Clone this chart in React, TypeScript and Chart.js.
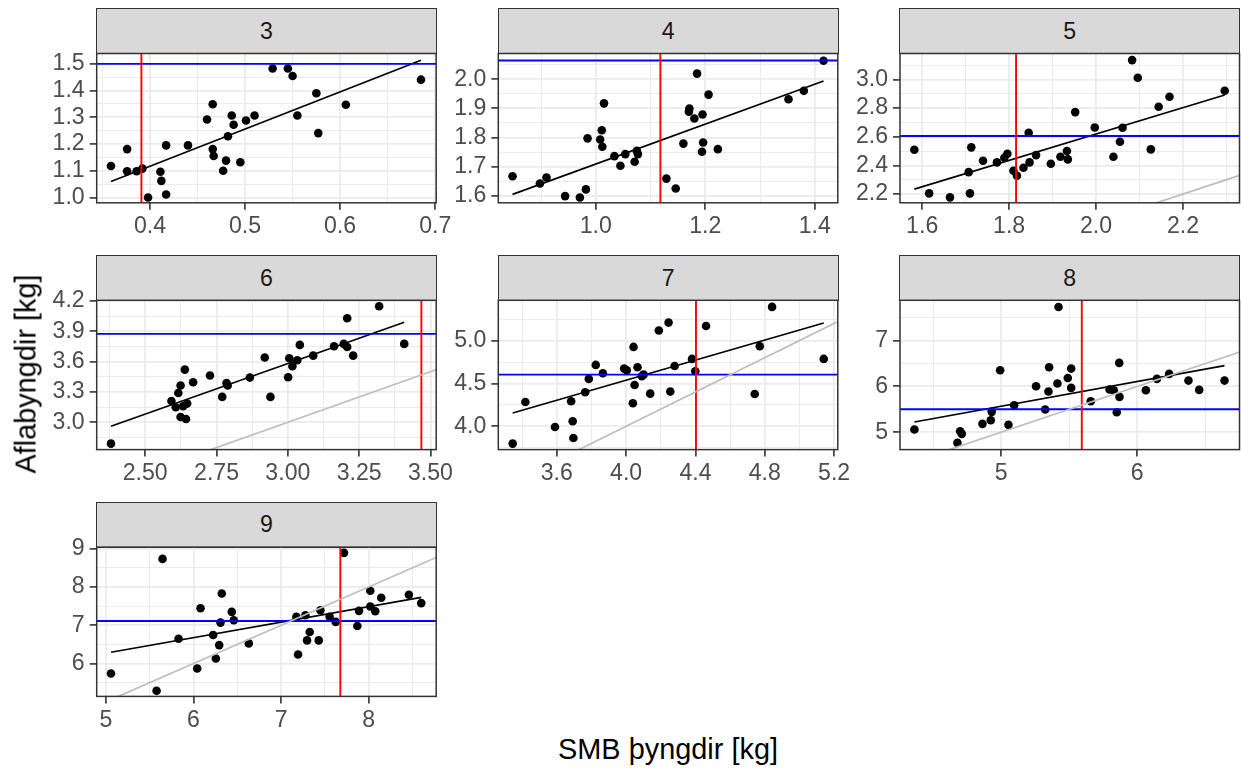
import React, { useEffect, useRef } from "react";
import { Chart, registerables } from "chart.js";

Chart.register(...registerables);

const FIG_W = 1241;
const FIG_H = 772;
const FONT = "'Liberation Sans', Arial, Helvetica, sans-serif";

// Age groups, one facet each
const ages = [3, 4, 5, 6, 7, 8, 9];

// SMB weights (x) and catch weights (y) per age group
const smb3 = [0.359, 0.376, 0.376, 0.386, 0.392, 0.398, 0.411, 0.412, 0.417, 0.417, 0.44, 0.46, 0.466, 0.466, 0.467, 0.477, 0.48, 0.482, 0.486, 0.488, 0.495, 0.501, 0.51, 0.529, 0.545, 0.55, 0.555, 0.575, 0.577, 0.606, 0.685];
const afla3 = [1.118, 1.181, 1.098, 1.098, 1.108, 1.0, 1.096, 1.062, 1.011, 1.195, 1.195, 1.292, 1.349, 1.181, 1.155, 1.1, 1.138, 1.229, 1.307, 1.272, 1.132, 1.288, 1.307, 1.483, 1.483, 1.455, 1.307, 1.39, 1.241, 1.347, 1.441];

const smb4 = [0.848, 0.898, 0.91, 0.944, 0.971, 0.982, 0.985, 1.008, 1.011, 1.012, 1.015, 1.034, 1.045, 1.054, 1.071, 1.075, 1.077, 1.129, 1.146, 1.16, 1.171, 1.17, 1.18, 1.185, 1.195, 1.196, 1.194, 1.206, 1.223, 1.352, 1.38, 1.416];
const afla4 = [1.667, 1.642, 1.663, 1.599, 1.594, 1.622, 1.797, 1.793, 1.825, 1.768, 1.917, 1.736, 1.703, 1.743, 1.717, 1.754, 1.743, 1.659, 1.625, 1.779, 1.899, 1.888, 1.865, 2.019, 1.879, 1.783, 1.751, 1.947, 1.76, 1.931, 1.96, 2.063];

const smb5 = [1.582, 1.616, 1.664, 1.707, 1.71, 1.713, 1.74, 1.772, 1.789, 1.796, 1.81, 1.818, 1.833, 1.845, 1.847, 1.862, 1.896, 1.918, 1.933, 1.935, 1.952, 1.997, 2.04, 2.055, 2.061, 2.083, 2.096, 2.126, 2.144, 2.169, 2.296];
const afla5 = [2.509, 2.205, 2.177, 2.353, 2.205, 2.526, 2.433, 2.421, 2.453, 2.481, 2.363, 2.328, 2.384, 2.628, 2.421, 2.472, 2.412, 2.46, 2.5, 2.442, 2.772, 2.665, 2.46, 2.565, 2.663, 3.135, 3.012, 2.512, 2.809, 2.879, 2.921];

const smb6 = [2.38, 2.592, 2.607, 2.616, 2.624, 2.624, 2.633, 2.639, 2.643, 2.647, 2.668, 2.727, 2.77, 2.785, 2.789, 2.867, 2.919, 2.939, 3.001, 3.005, 3.016, 3.033, 3.042, 3.089, 3.162, 3.196, 3.208, 3.208, 3.229, 3.32, 3.408];
const afla6 = [2.789, 3.211, 3.148, 3.29, 3.363, 3.053, 3.158, 3.521, 3.033, 3.185, 3.396, 3.462, 3.251, 3.389, 3.363, 3.442, 3.64, 3.251, 3.445, 3.633, 3.554, 3.613, 3.765, 3.659, 3.752, 3.775, 3.745, 4.029, 3.659, 4.147, 3.775];

const smb7 = [3.346, 3.419, 3.59, 3.683, 3.692, 3.696, 3.764, 3.785, 3.825, 3.866, 3.989, 4.004, 4.039, 4.043, 4.049, 4.066, 4.091, 4.101, 4.139, 4.189, 4.245, 4.255, 4.28, 4.38, 4.399, 4.461, 4.742, 4.771, 4.842, 5.14];
const afla7 = [3.798, 4.284, 3.992, 4.292, 4.058, 3.864, 4.397, 4.553, 4.716, 4.619, 4.673, 4.654, 4.268, 4.926, 4.482, 4.689, 4.584, 4.603, 4.381, 5.117, 5.21, 4.405, 4.704, 4.786, 4.642, 5.171, 4.377, 4.934, 5.393, 4.786];

const smb8 = [4.363, 4.679, 4.699, 4.711, 4.863, 4.924, 4.931, 4.993, 5.054, 5.096, 5.257, 5.324, 5.348, 5.353, 5.414, 5.422, 5.49, 5.515, 5.515, 5.659, 5.797, 5.828, 5.85, 5.87, 5.868, 6.064, 6.145, 6.235, 6.377, 6.456, 6.642];
const afla8 = [5.058, 4.767, 5.022, 4.964, 5.182, 5.262, 5.444, 6.353, 5.16, 5.589, 6.004, 5.495, 5.887, 6.418, 6.062, 7.735, 6.185, 6.389, 5.967, 5.676, 5.931, 5.916, 5.436, 5.771, 6.513, 5.916, 6.164, 6.273, 6.127, 5.924, 6.127];

const smb9 = [5.057, 5.578, 5.646, 5.829, 6.042, 6.08, 6.224, 6.255, 6.293, 6.308, 6.323, 6.437, 6.46, 6.631, 7.175, 7.194, 7.278, 7.297, 7.327, 7.43, 7.449, 7.555, 7.624, 7.719, 7.871, 7.89, 8.019, 8.019, 8.076, 8.144, 8.46, 8.601];
const afla9 = [5.737, 5.289, 8.737, 6.649, 5.868, 7.447, 6.746, 6.132, 6.482, 7.07, 7.833, 7.351, 7.132, 6.526, 7.219, 6.237, 7.263, 6.605, 6.825, 6.605, 7.395, 7.219, 7.088, 8.895, 6.982, 7.377, 7.904, 7.491, 7.368, 7.719, 7.798, 7.579];

const smbByAge = [smb3, smb4, smb5, smb6, smb7, smb8, smb9];
const aflaByAge = [afla3, afla4, afla5, afla6, afla7, afla8, afla9];

// Reference levels: red vertical (SMB) and blue horizontal (catch)
const refSmb = [0.391, 1.118, 1.816, 3.468, 4.403, 5.593, 7.677];
const refAfla = [1.5, 2.064, 2.605, 3.874, 4.603, 5.502, 7.114];

// Linear fit per age group: afla = intercept + slope * smb
const fitIntercept = [0.559, 1.025, 0.781, 0.578, 2.198, 2.862, 4.247];
const fitSlope = [1.394, 0.684, 0.919, 1.001, 0.585, 0.541, 0.405];

// Axis limits
const xLo = [0.344, 0.822, 1.549, 2.33, 3.263, 4.257, 4.894];
const xHi = [0.701, 1.442, 2.33, 3.52, 5.221, 6.752, 8.772];
const yLo = [0.98, 1.576, 2.139, 2.73, 3.728, 4.62, 5.14];
const yHi = [1.539, 2.088, 3.181, 4.206, 5.47, 7.88, 9.045];

// Tick marks and label precision
const xTicks = [[0.4, 0.5, 0.6, 0.7], [1.0, 1.2, 1.4], [1.6, 1.8, 2.0, 2.2], [2.5, 2.75, 3.0, 3.25, 3.5], [3.6, 4.0, 4.4, 4.8, 5.2], [5, 6], [5, 6, 7, 8]];
const xDigits = [1, 1, 1, 2, 1, 0, 0];
const yTicks = [[1.0, 1.1, 1.2, 1.3, 1.4, 1.5], [1.6, 1.7, 1.8, 1.9, 2.0], [2.2, 2.4, 2.6, 2.8, 3.0], [3.0, 3.3, 3.6, 3.9, 4.2], [4.0, 4.5, 5.0], [5, 6, 7], [6, 7, 8, 9]];
const yDigits = [1, 1, 1, 1, 1, 0, 0];

// Facet grid geometry
const colLeft = [96.7, 498.3, 900.0];
const panelW = 339.5;
const rowTop = [8.3, 255.1, 501.9];
const stripH = 45.2;
const panelH = 149.3;

const TICK_FONT = 23.1;
const TITLE_FONT = 28.9;

type TickItem = { value: number; minor: boolean };

function buildTicks(major: number[], lo: number, hi: number): TickItem[] {
  const step = major[1] - major[0];
  const out: TickItem[] = [];
  for (let k = 0; k < 200; k++) {
    const v = major[0] - step / 2 + (k * step) / 2;
    if (v > hi + 1e-9) break;
    if (v >= lo - 1e-9) out.push({ value: +v.toFixed(6), minor: k % 2 === 0 });
  }
  return out;
}

const panelFrame = {
  id: "panelFrame",
  afterDraw(chart: any) {
    const a = chart.chartArea;
    const ctx = chart.ctx;
    ctx.save();
    ctx.strokeStyle = "#333333";
    ctx.lineWidth = 1.5;
    ctx.strokeRect(a.left, a.top, a.right - a.left, a.bottom - a.top);
    ctx.restore();
  },
};

function axisOptions(
  ticks: number[],
  digits: number,
  lo: number,
  hi: number,
  horizontal: boolean,
  size: number
) {
  return {
    type: "linear",
    min: lo,
    max: hi,
    border: { display: false },
    afterBuildTicks: (sc: any) => {
      sc.ticks = buildTicks(ticks, lo, hi);
    },
    afterFit: (sc: any) => {
      if (horizontal) {
        sc.height = size;
        sc.paddingLeft = 0;
        sc.paddingRight = 0;
      } else {
        sc.width = size;
        sc.paddingTop = 0;
        sc.paddingBottom = 0;
      }
    },
    ticks: {
      autoSkip: false,
      maxRotation: 0,
      minRotation: 0,
      padding: horizontal ? 3 : 5,
      color: "#4D4D4D",
      font: { family: FONT, size: TICK_FONT },
      callback: (value: any, index: number, all: any[]) =>
        all[index] && all[index].minor ? "" : Number(value).toFixed(digits),
    },
    grid: {
      color: "#EBEBEB",
      lineWidth: (c: any) => (c.tick && c.tick.minor ? 1.0 : 1.8),
      tickLength: 7,
      tickColor: (c: any) => (c.tick && c.tick.minor ? "rgba(0,0,0,0)" : "#333333"),
      tickWidth: 1.6,
    },
  };
}

function Panel({ i }: { i: number }) {
  const ref = useRef<HTMLCanvasElement>(null);
  const row = Math.floor(i / 3);
  const col = i % 3;
  const left = colLeft[col];
  const w = panelW;
  const top = rowTop[row] + stripH;
  const h = panelH;

  // canvas box around the panel, with room for the tick labels
  const L = Math.floor(left) - 60;
  const axisW = left - L;
  const T = Math.floor(top) - 16;
  const padTop = top - T;
  const W = Math.ceil(axisW + w + 30);
  const padRight = W - axisW - w;
  const H = Math.ceil(padTop + h + 48);
  const axisH = H - padTop - h;

  useEffect(() => {
    if (!ref.current) return;
    const xs = smbByAge[i];
    const ys = aflaByAge[i];
    const pts = xs.map((x, k) => ({ x, y: ys[k] }));
    const x0 = Math.min(...xs);
    const x1 = Math.max(...xs);
    const a = fitIntercept[i];
    const b = fitSlope[i];
    const dLo = Math.min(xLo[i], yLo[i]) - 1;
    const dHi = Math.max(xHi[i], yHi[i]) + 1;

    const chart = new Chart(ref.current, {
      type: "scatter",
      data: {
        datasets: [
          {
            // identity line y = x
            type: "line",
            data: [{ x: dLo, y: dLo }, { x: dHi, y: dHi }],
            borderColor: "#BEBEBE",
            borderWidth: 1.7,
            pointRadius: 0,
            clip: 0,
          },
          {
            type: "line",
            data: [{ x: refSmb[i], y: yLo[i] - 10 }, { x: refSmb[i], y: yHi[i] + 10 }],
            borderColor: "#FF0000",
            borderWidth: 1.9,
            pointRadius: 0,
            clip: 0,
          },
          {
            type: "line",
            data: [{ x: xLo[i] - 10, y: refAfla[i] }, { x: xHi[i] + 10, y: refAfla[i] }],
            borderColor: "#0000FF",
            borderWidth: 1.9,
            pointRadius: 0,
            clip: 0,
          },
          {
            type: "line",
            data: [{ x: x0, y: a + b * x0 }, { x: x1, y: a + b * x1 }],
            borderColor: "#000000",
            borderWidth: 1.7,
            pointRadius: 0,
            clip: 0,
          },
          {
            type: "scatter",
            data: pts,
            pointRadius: 4.3,
            pointBackgroundColor: "#000000",
            pointBorderWidth: 0,
            clip: 0,
          },
        ],
      } as any,
      options: {
        animation: false,
        responsive: false,
        maintainAspectRatio: false,
        events: [],
        layout: { padding: { top: padTop, right: padRight, left: 0, bottom: 0 } },
        plugins: { legend: { display: false }, tooltip: { enabled: false } },
        scales: {
          x: axisOptions(xTicks[i], xDigits[i], xLo[i], xHi[i], true, axisH),
          y: axisOptions(yTicks[i], yDigits[i], yLo[i], yHi[i], false, axisW),
        },
      } as any,
      plugins: [panelFrame],
    });
    return () => chart.destroy();
  }, [i]);

  return (
    <>
      <div
        style={{
          position: "absolute",
          left: left - 0.75,
          top: rowTop[row],
          width: w + 1.5,
          height: stripH + 0.75,
          boxSizing: "border-box",
          background: "#D9D9D9",
          border: "1.5px solid #333333",
          display: "flex",
          alignItems: "center",
          justifyContent: "center",
          fontFamily: FONT,
          fontSize: TICK_FONT,
          color: "#1A1A1A",
        }}
      >
        {ages[i]}
      </div>
      <canvas
        ref={ref}
        width={W}
        height={H}
        style={{ position: "absolute", left: L, top: T, width: W, height: H }}
      />
    </>
  );
}

export default function App() {
  return (
    <div
      style={{
        position: "absolute",
        left: 0,
        top: 0,
        width: FIG_W,
        height: FIG_H,
        overflow: "hidden",
        background: "#FFFFFF",
        fontFamily: FONT,
      }}
    >
      {ages.map((_, i) => (
        <Panel key={i} i={i} />
      ))}
      <div
        style={{
          position: "absolute",
          left: 668,
          top: 735,
          transform: "translateX(-50%)",
          fontSize: TITLE_FONT,
          lineHeight: `${TITLE_FONT}px`,
          whiteSpace: "nowrap",
          color: "#000000",
        }}
      >
        SMB þyngdir [kg]
      </div>
      <div
        style={{
          position: "absolute",
          left: 26,
          top: 374,
          transform: "translate(-50%, -50%) rotate(-90deg)",
          fontSize: TITLE_FONT,
          lineHeight: `${TITLE_FONT}px`,
          whiteSpace: "nowrap",
          color: "#000000",
        }}
      >
        Aflabyngdir [kg]
      </div>
    </div>
  );
}
